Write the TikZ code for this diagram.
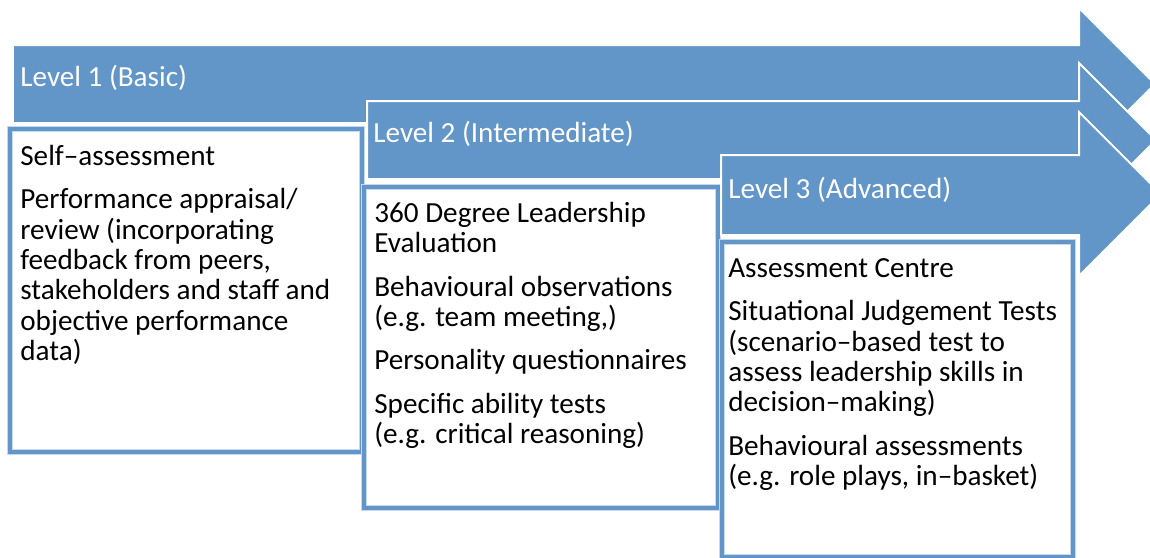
\documentclass[tikz,border=0pt]{standalone}
\usepackage{fontspec}
\setmainfont{Carlito}
\definecolor{lvb}{RGB}{99,150,200}
\definecolor{lvl}{RGB}{198,217,238}
\tikzset{
  lvarrow/.style={fill=lvb, draw=white, line width=0.04cm},
  lvbox/.style={fill=white, draw=lvl, line width=0.012cm, double=lvb, double distance=0.09cm},
  lvtitle/.style={anchor=base west, inner sep=0pt, text=white, font=\fontsize{16.6}{17.3}\selectfont},
  lvtext/.style={anchor=north west, inner sep=0pt, align=left, font=\fontsize{16.6}{17.3}\selectfont},
}
\newcommand*{\pgap}{\\[7.4pt]}
\newcommand*{\topstrut}{\rule{0pt}{13pt}}% first line: baseline 13pt below node top

\begin{document}
\begin{tikzpicture}[x=0.02cm, y=-0.02cm]
    \path[use as bounding box, clip](0, 0) rectangle (1150, 558);
    \fill[white](0, 0) rectangle (1150, 558);
    % level 1
    \draw[lvarrow](13, 45)--(1079, 45)--(1079, 8)--(1155, 84)--(1079, 160)--(1079, 123)--(13, 123)--cycle;
    \draw[lvbox](10, 129) rectangle (362, 452);
    \node[lvtitle](lv1) at (20, 86) {Level 1 (Basic)};
    \node[lvtext](tx1) at (20, 142.1) {\topstrut Self–assessment\pgap
        Performance appraisal/\\review (incorporating\\feedback from peers,\\stakeholders and staff and\\objective performance\\data)};
    % level 2
    \draw[lvarrow](367, 101)--(1079, 101)--(1079, 63)--(1156, 140)--(1079, 217)--(1079, 179)--(367, 179)--cycle;
    \draw[lvbox](364, 187) rectangle (718, 508);
    \node[lvtitle](lv2) at (373, 142) {Level 2 (Intermediate)};
    \node[lvtext](tx2) at (374, 199.1) {\topstrut 360 Degree Leadership\\Evaluation\pgap
        Behavioural observations\\(e.g. team meeting,)\pgap
        Personality questionnaires\pgap
        Specific ability tests\\(e.g. critical reasoning)};
    % level 3
    \draw[lvarrow](721, 155)--(1079, 155)--(1079, 112)--(1161, 194)--(1079, 276)--(1079, 235)--(721, 235)--cycle;
    \draw[lvbox](722, 242) rectangle (1073, 557);
    \node[lvtitle](lv3) at (728, 198) {Level 3 (Advanced)};
    \node[lvtext](tx3) at (728, 254.1) {\topstrut Assessment Centre\pgap
        Situational Judgement Tests\\(scenario–based test to\\assess leadership skills in\\decision–making)\pgap
        Behavioural assessments\\(e.g. role plays, in–basket)};
\end{tikzpicture}
\end{document}
